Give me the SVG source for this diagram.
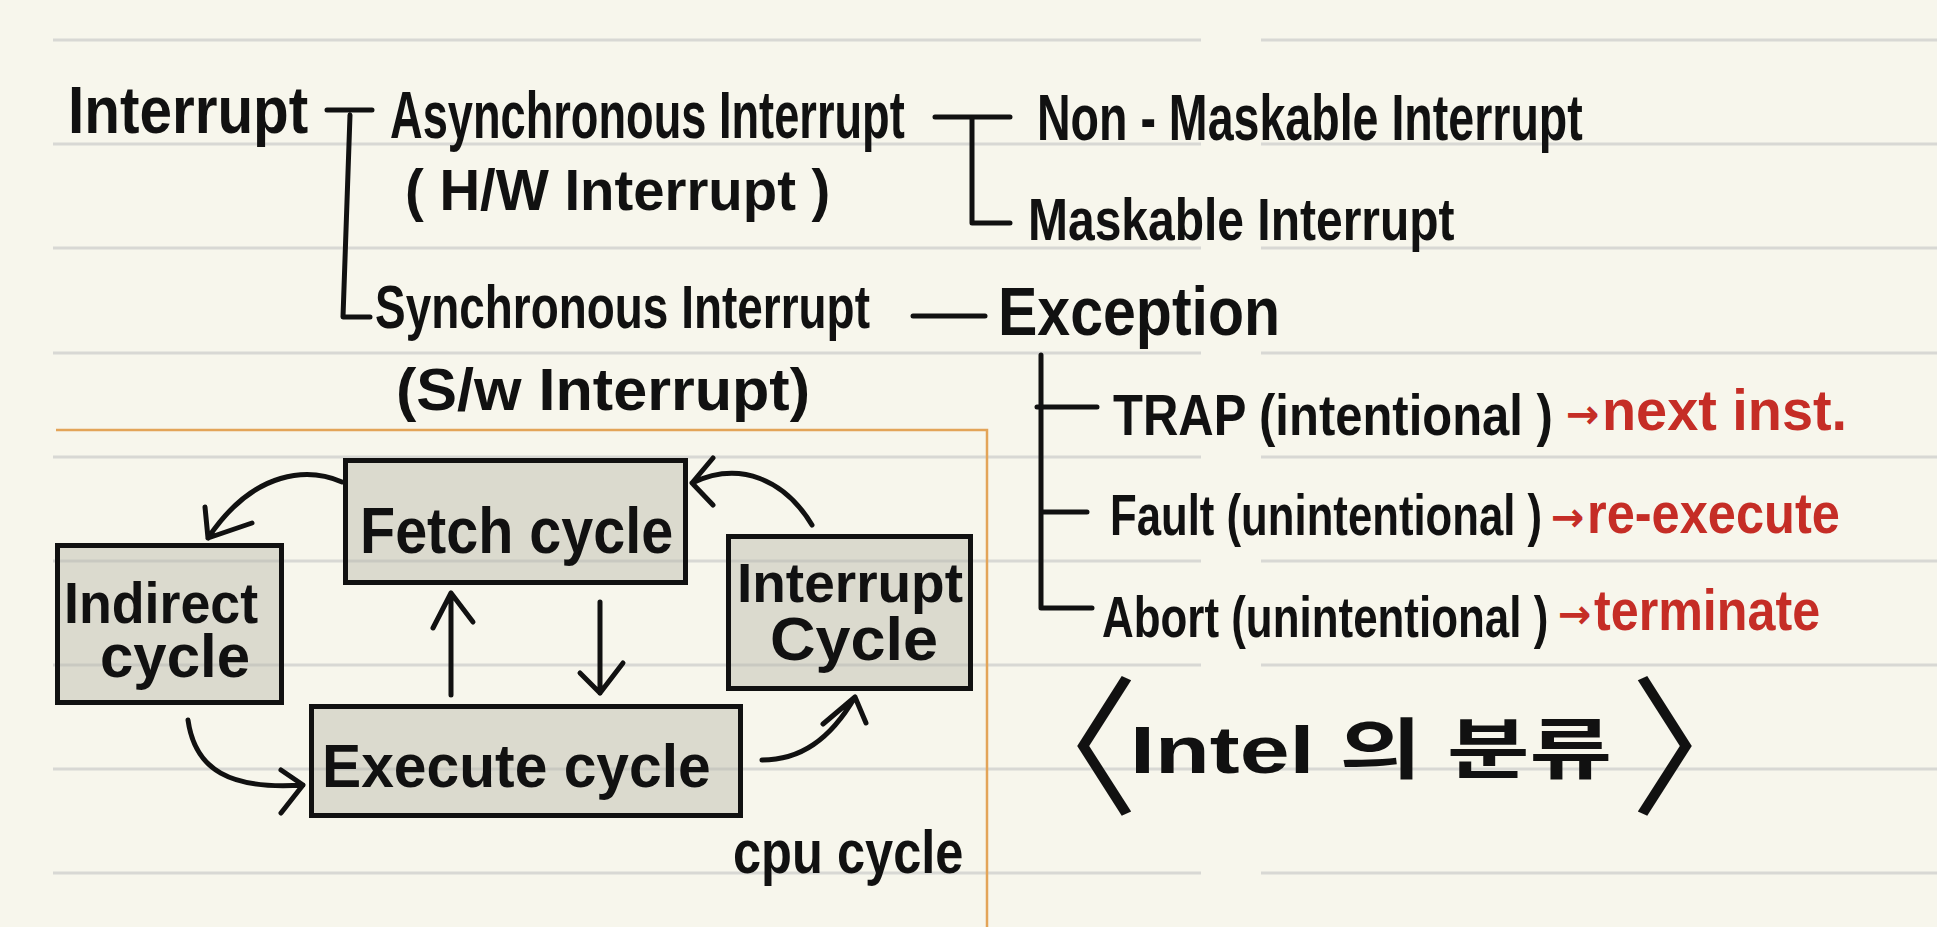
<svg xmlns="http://www.w3.org/2000/svg" width="1937" height="927" viewBox="0 0 1937 927">
<style>
.t{font-family:"Liberation Sans","Noto Sans CJK KR",sans-serif;fill:#111;font-weight:700;}
.r{font-family:"Liberation Sans",sans-serif;fill:#c52d26;font-weight:700;}
.a{font-family:"DejaVu Sans",sans-serif;fill:#c52d26;font-weight:700;}
.br{font-family:"Noto Sans CJK KR",sans-serif;fill:#111;font-weight:400;}
.rule{stroke:#d8d8d4;stroke-width:3;fill:none;}
.ln{stroke:#111;stroke-width:5;fill:none;stroke-linecap:round;stroke-linejoin:round;}
.box{fill:#b8b8aa;fill-opacity:0.45;stroke:#111;stroke-width:5;}
</style>
<rect x="0" y="0" width="1937" height="927" fill="#f7f6ec"/>
<g id="rules">
<path class="rule" d="M53,40H1201M1261,40H1937M53,144H1201M1261,144H1937M53,248H1201M1261,248H1937M53,353H1201M1261,353H1937M53,457H1201M1261,457H1937M53,561H1201M1261,561H1937M53,665H1201M1261,665H1937M53,769H1201M1261,769H1937M53,873H1201M1261,873H1937"/>
</g>
<path d="M56,430H987V927" fill="none" stroke="#e3a458" stroke-width="2.5"/>

<g id="n-interrupt"><text class="t" transform="translate(68 133) scale(0.88 1)" font-size="66" textLength="273" lengthAdjust="spacingAndGlyphs">Interrupt</text></g>
<g id="n-async">
<text class="t" transform="translate(390 138) scale(0.68 1)" font-size="66" textLength="757" lengthAdjust="spacingAndGlyphs">Asynchronous Interrupt</text>
<text class="t" transform="translate(405 210) scale(0.96 1)" font-size="58" textLength="443" lengthAdjust="spacingAndGlyphs">( H/W Interrupt )</text>
</g>
<g id="n-sync">
<text class="t" transform="translate(375 328) scale(0.73 1)" font-size="62" textLength="678" lengthAdjust="spacingAndGlyphs">Synchronous Interrupt</text>
<text class="t" x="396" y="410" font-size="60" textLength="414" lengthAdjust="spacingAndGlyphs">(S/w Interrupt)</text>
</g>
<g id="n-nmi"><text class="t" transform="translate(1037 140) scale(0.72 1)" font-size="64" textLength="758" lengthAdjust="spacingAndGlyphs">Non - Maskable Interrupt</text></g>
<g id="n-mi"><text class="t" transform="translate(1028 240) scale(0.79 1)" font-size="60" textLength="540" lengthAdjust="spacingAndGlyphs">Maskable Interrupt</text></g>
<g id="n-exception"><text class="t" transform="translate(998 335) scale(0.86 1)" font-size="68" textLength="328" lengthAdjust="spacingAndGlyphs">Exception</text></g>
<g id="n-trap">
<text class="t" transform="translate(1113 435) scale(0.83 1)" font-size="58" textLength="530" lengthAdjust="spacingAndGlyphs">TRAP (intentional )</text>
<text class="a" x="1566" y="428" font-size="40">→</text>
<text class="r" transform="translate(1602 430) scale(0.95 1)" font-size="58" textLength="258" lengthAdjust="spacingAndGlyphs">next inst.</text>
</g>
<g id="n-fault">
<text class="t" transform="translate(1110 535) scale(0.74 1)" font-size="58" textLength="584" lengthAdjust="spacingAndGlyphs">Fault (unintentional )</text>
<text class="a" x="1551" y="531" font-size="40">→</text>
<text class="r" transform="translate(1587 533) scale(0.86 1)" font-size="58" textLength="294" lengthAdjust="spacingAndGlyphs">re-execute</text>
</g>
<g id="n-abort">
<text class="t" transform="translate(1102 637) scale(0.75 1)" font-size="58" textLength="595" lengthAdjust="spacingAndGlyphs">Abort (unintentional )</text>
<text class="a" x="1558" y="628" font-size="40">→</text>
<text class="r" transform="translate(1594 630) scale(0.85 1)" font-size="58" textLength="266" lengthAdjust="spacingAndGlyphs">terminate</text>
</g>
<g id="n-title">
<text class="br" x="989" y="803" font-size="150">〈</text>
<text class="t" x="1130" y="773" font-size="66" textLength="482" lengthAdjust="spacingAndGlyphs">Intel 의 분류</text>
<text class="br" x="1630" y="803" font-size="150">〉</text>
</g>

<g id="n-fetch">
<rect class="box" x="345.5" y="460.5" width="340" height="122"/>
<text class="t" transform="translate(360 553) scale(0.88 1)" font-size="64" textLength="356" lengthAdjust="spacingAndGlyphs">Fetch cycle</text>
</g>
<g id="n-indirect">
<rect class="box" x="57.5" y="545.5" width="224" height="157"/>
<text class="t" transform="translate(64 623) scale(0.92 1)" font-size="58" textLength="211" lengthAdjust="spacingAndGlyphs">Indirect</text>
<text class="t" x="100" y="677" font-size="62" textLength="150" lengthAdjust="spacingAndGlyphs">cycle</text>
</g>
<g id="n-intcycle">
<rect class="box" x="728.5" y="536.5" width="242" height="152"/>
<text class="t" transform="translate(737 602) scale(0.97 1)" font-size="56" textLength="233" lengthAdjust="spacingAndGlyphs">Interrupt</text>
<text class="t" x="770" y="660" font-size="62" textLength="168" lengthAdjust="spacingAndGlyphs">Cycle</text>
</g>
<g id="n-execute">
<rect class="box" x="311.5" y="706.5" width="429" height="109"/>
<text class="t" transform="translate(322 787) scale(0.93 1)" font-size="62" textLength="418" lengthAdjust="spacingAndGlyphs">Execute cycle</text>
</g>
<g id="n-cpu"><text class="t" transform="translate(733 873) scale(0.8 1)" font-size="62" textLength="288" lengthAdjust="spacingAndGlyphs">cpu cycle</text></g>

<g id="connectors">
<path class="ln" d="M327,110H372M350,115L343,317H370"/>
<path class="ln" d="M935,117H1010M972,117V223H1010"/>
<path class="ln" d="M913,316H985"/>
<path class="ln" d="M1041,355V608H1092M1037,407H1097M1041,512H1087"/>
<path class="ln" d="M342,482C310,468 255,468 208,538M205,507L208,538L252,523"/>
<path class="ln" d="M812,525C785,480 740,460 692,483M713,458L692,483L713,505"/>
<path class="ln" d="M451,695V593M433,628L451,593L473,622"/>
<path class="ln" d="M600,602V693M580,673L600,693L623,663"/>
<path class="ln" d="M188,720C195,770 230,790 303,785M281,770L303,785L281,813"/>
<path class="ln" d="M762,760C800,760 830,740 855,697M823,724L855,697L866,723"/>
</g>
</svg>
